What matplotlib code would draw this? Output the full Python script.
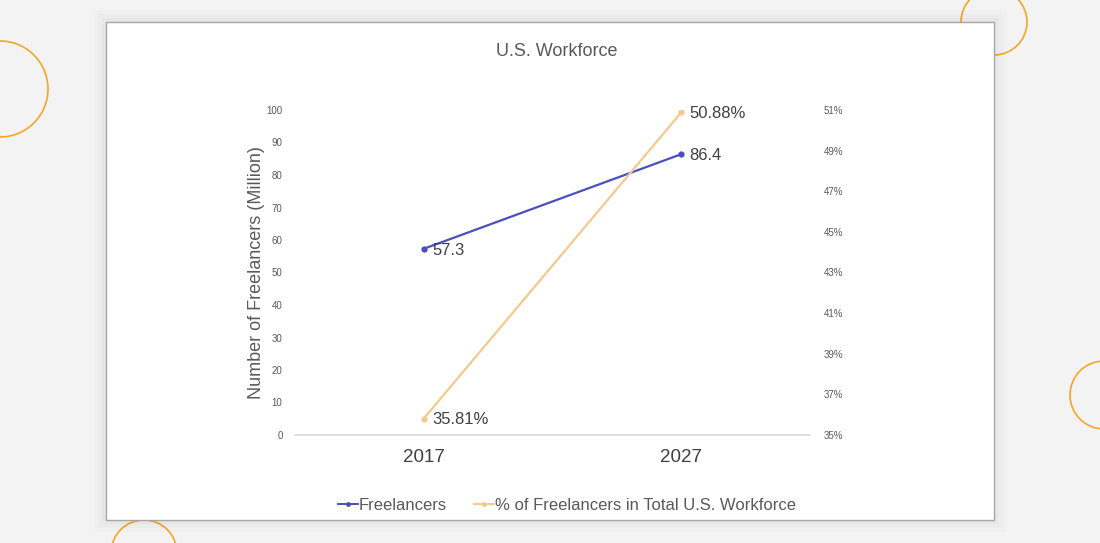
import matplotlib
matplotlib.use("Agg")
import matplotlib.pyplot as plt
from matplotlib.patches import Rectangle, Ellipse
from matplotlib.lines import Line2D
import matplotlib.ticker as mticker

plt.rcParams['font.family'] = ['Liberation Sans', 'DejaVu Sans']

# ---- data ----
years = ["2017", "2027"]
freelancers = [57.3, 86.4]
pct_workforce = [35.81, 50.88]
freelancer_labels = ["57.3", "86.4"]
pct_labels = ["35.81%", "50.88%"]
left_ticks = [0, 10, 20, 30, 40, 50, 60, 70, 80, 90, 100]
right_ticks = [35, 37, 39, 41, 43, 45, 47, 49, 51]

W, H = 1100, 543
fig = plt.figure(figsize=(W / 100, H / 100), dpi=100)
fig.patch.set_facecolor('#f3f3f3')

def fx(px):
    return px / W

def fy(py):
    return 1 - py / H

# decorative circles (behind card)
orange = '#f5a623'
for cx, cy, r in [(0, 89, 48), (994, 22, 33), (1104, 395, 34), (144, 553, 33)]:
    fig.patches.append(Ellipse((fx(cx), fy(cy)), 2 * r / W, 2 * r / H,
                               transform=fig.transFigure, fill=False,
                               edgecolor=orange, lw=1.2, zorder=-3))

# card shadow (soft)
for i, a in enumerate([0.025, 0.015, 0.01]):
    d = (i + 1) * 4
    fig.patches.append(Rectangle((fx(106 - d), fy(520 + d)), (888 + 2 * d) / W, (498 + 2 * d) / H,
                                 transform=fig.transFigure, facecolor='black', alpha=a,
                                 edgecolor='none', zorder=-2.5))
# card
fig.patches.append(Rectangle((fx(106), fy(520)), 888 / W, 498 / H, transform=fig.transFigure,
                             facecolor='white', edgecolor='#a6a6a6', lw=1.0, zorder=-2))

ax = fig.add_axes([fx(295), fy(435), (810 - 295) / W, (435 - 110) / H])
ax.set_facecolor('none')
ax2 = ax.twinx()
ax2.set_facecolor('none')

blue = '#4b4fbf'
tan = '#f4c98e'
x = [0, 1]
ax.plot(x, freelancers, color=blue, lw=1.6, marker='o', ms=3.5, zorder=3)
ax2.plot(x, pct_workforce, color=tan, lw=1.6, marker='o', ms=3.5, zorder=3)

ax.set_xlim(-0.5, 1.5)
ax.set_ylim(0, 100)
ax2.set_ylim(35, 51)
ax.set_yticks(left_ticks)
ax2.set_yticks(right_ticks)
ax2.yaxis.set_major_formatter(mticker.FuncFormatter(lambda v, p: f"{int(v)}%"))
ax.set_xticks(x)
ax.set_xticklabels(years)

for a in (ax, ax2):
    for s in a.spines.values():
        s.set_visible(False)
    a.tick_params(length=0)
ax.spines['bottom'].set_visible(True)
ax.spines['bottom'].set_color('#d9d9d9')
ax.spines['bottom'].set_linewidth(1.2)

ax.tick_params(axis='y', labelsize=7, labelcolor='#595959', pad=9)
ax2.tick_params(axis='y', labelsize=7, labelcolor='#595959', pad=10)
ax.tick_params(axis='x', labelsize=13.5, labelcolor='#404040', pad=10)

ax.set_ylabel("Number of Freelancers (Million)", fontsize=13, color='#595959', labelpad=1)

txtc = '#404040'
for xi, v, lab in zip(x, freelancers, freelancer_labels):
    ax.annotate(lab, (xi, v), xytext=(6, -1), textcoords='offset points',
                ha='left', va='center', fontsize=12, color=txtc)
for xi, v, lab in zip(x, pct_workforce, pct_labels):
    ax2.annotate(lab, (xi, v), xytext=(6, -1), textcoords='offset points',
                 ha='left', va='center', fontsize=12, color=txtc)

fig.text(fx(557), fy(51), "U.S. Workforce", ha='center', va='center', fontsize=13, color='#595959')

handles = [Line2D([], [], color=blue, lw=1.4, marker='o', ms=2.5),
           Line2D([], [], color=tan, lw=1.4, marker='o', ms=2.5)]
fig.legend(handles, ["Freelancers", "% of Freelancers in Total U.S. Workforce"],
           loc='center', bbox_to_anchor=(fx(567), fy(505)), ncol=2, frameon=False,
           fontsize=12, labelcolor='#595959', handlelength=1.2, handletextpad=0.05,
           columnspacing=1.6)

fig.savefig("out.png", dpi=100, facecolor=fig.get_facecolor())
